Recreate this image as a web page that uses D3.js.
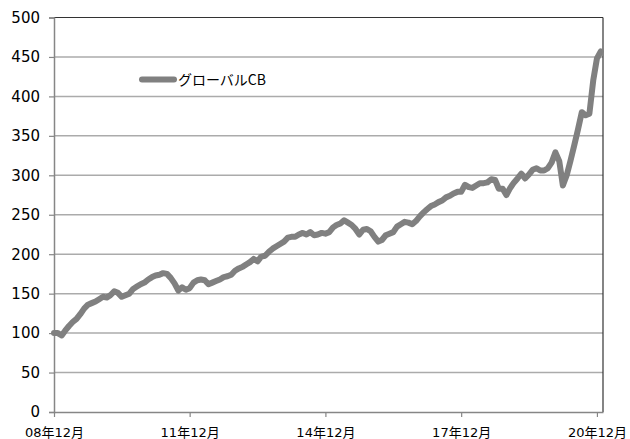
<!DOCTYPE html>
<html>
<head>
<meta charset="utf-8">
<script src="https://cdn.jsdelivr.net/npm/d3@7"></script>
<style>
  html, body { margin: 0; padding: 0; background: #fff; }
  svg { display: block; }
</style>
</head>
<body>
<svg id="chart" width="630" height="439"></svg>
<script>
// ---- data ----
const seriesName = "グローバルCB";
const startYear = 2008, startMonth = 11; // Dec 2008 (0-based month)
const values = [
  100, 100, 97, 103, 109, 114, 118, 124, 131, 136, 138, 140,
  143, 146, 145, 148, 153, 151, 146, 148, 150, 156, 159, 162,
  164, 168, 171, 173, 174, 176, 175, 170, 163, 154, 158, 155,
  157, 164, 167, 168, 167, 162, 164, 166, 168, 171, 172, 174,
  179, 182, 184, 187, 190, 194, 191, 197, 198, 203, 207, 210,
  213, 216, 221, 222, 222, 225, 227, 225, 228, 224, 225, 227,
  226, 228, 234, 237, 239, 243, 240, 237, 232, 225, 231, 232,
  229, 222, 216, 218, 224, 226, 228, 235, 238, 241, 240, 238,
  242, 248, 253, 257, 261, 263, 266, 268, 272, 274, 277, 279,
  279, 288, 285, 284, 287, 290, 290, 291, 295, 294, 283, 283,
  275, 284, 291, 296, 302, 296, 301, 307, 309, 306, 306, 309,
  316, 329, 318, 287, 300, 318, 338, 358, 380, 376, 378, 420,
  448, 457
];
const yTicks = [0, 50, 100, 150, 200, 250, 300, 350, 400, 450, 500];
const xTickLabels = ["08年12月", "11年12月", "14年12月", "17年12月", "20年12月"];
const xTickDates = [new Date(2008, 11, 1), new Date(2011, 11, 1), new Date(2014, 11, 1), new Date(2017, 11, 1), new Date(2020, 11, 1)];

const data = values.map((v, i) => ({ date: new Date(startYear, startMonth + i, 1), value: v }));

// ---- layout ----
const svg = d3.select("#chart");
const margin = { left: 54, right: 27, top: 17.5, bottom: 27 };
const W = 630, H = 439;
const x0 = margin.left, x1 = W - margin.right;
const y0 = H - margin.bottom, y1 = margin.top;

const lastDate = data[data.length - 1].date;
const x = d3.scaleTime()
  .domain([data[0].date, d3.timeDay.offset(lastDate, 18)])
  .range([x0, x1]);
const y = d3.scaleLinear().domain([0, 500]).range([y0, y1]);

const font = "Verdana, 'DejaVu Sans', 'Noto Sans CJK JP', sans-serif";

// gridlines
svg.append("g")
  .selectAll("line")
  .data(yTicks.filter(d => d > 0 && d < 500))
  .join("line")
  .attr("x1", x0).attr("x2", x1)
  .attr("y1", d => y(d)).attr("y2", d => y(d))
  .attr("stroke", "#ababab")
  .attr("stroke-width", 1.5);

// top and right border
svg.append("line").attr("x1", x0).attr("x2", x1).attr("y1", y1).attr("y2", y1)
  .attr("stroke", "#333").attr("stroke-width", 1.2);
svg.append("line").attr("x1", x1).attr("x2", x1).attr("y1", y1).attr("y2", y0)
  .attr("stroke", "#333").attr("stroke-width", 1.2);

// y axis
const yAxis = d3.axisLeft(y).tickValues(yTicks).tickSize(5).tickPadding(8);
const gy = svg.append("g").attr("transform", `translate(${x0},0)`).call(yAxis);
gy.select(".domain").attr("stroke", "#868686").attr("stroke-width", 1.5);
gy.selectAll(".tick line").attr("stroke", "#868686").attr("stroke-width", 1.2);
gy.selectAll(".tick text")
  .attr("font-family", font).attr("font-size", 15).attr("fill", "#000")
  .attr("x", -14);

// x axis
const xAxis = d3.axisBottom(x).tickValues(xTickDates)
  .tickFormat((d, i) => xTickLabels[i]).tickSize(5).tickPadding(11).tickSizeOuter(0);
const gx = svg.append("g").attr("transform", `translate(0,${y0})`).call(xAxis);
gx.select(".domain").attr("stroke", "#868686").attr("stroke-width", 1.5);
gx.selectAll(".tick line").attr("stroke", "#868686").attr("stroke-width", 1.2);
gx.selectAll(".tick text")
  .attr("font-family", font).attr("font-size", 13).attr("fill", "#000");

// series line
const line = d3.line().x(d => x(d.date)).y(d => y(d.value)).curve(d3.curveLinear);
svg.append("path")
  .datum(data)
  .attr("d", line)
  .attr("fill", "none")
  .attr("stroke", "#808080")
  .attr("stroke-width", 6)
  .attr("stroke-linejoin", "round")
  .attr("stroke-linecap", "round");

// legend
const lg = svg.append("g").attr("transform", "translate(142,79.5)");
lg.append("line").attr("x1", 0).attr("x2", 32).attr("y1", 0).attr("y2", 0)
  .attr("stroke", "#808080").attr("stroke-width", 6).attr("stroke-linecap", "round");
lg.append("text").attr("x", 36).attr("y", 5.5)
  .attr("font-family", "'Noto Sans CJK JP', 'DejaVu Sans', sans-serif")
  .attr("font-size", 14).attr("fill", "#000")
  .text(seriesName);
</script>
</body>
</html>
